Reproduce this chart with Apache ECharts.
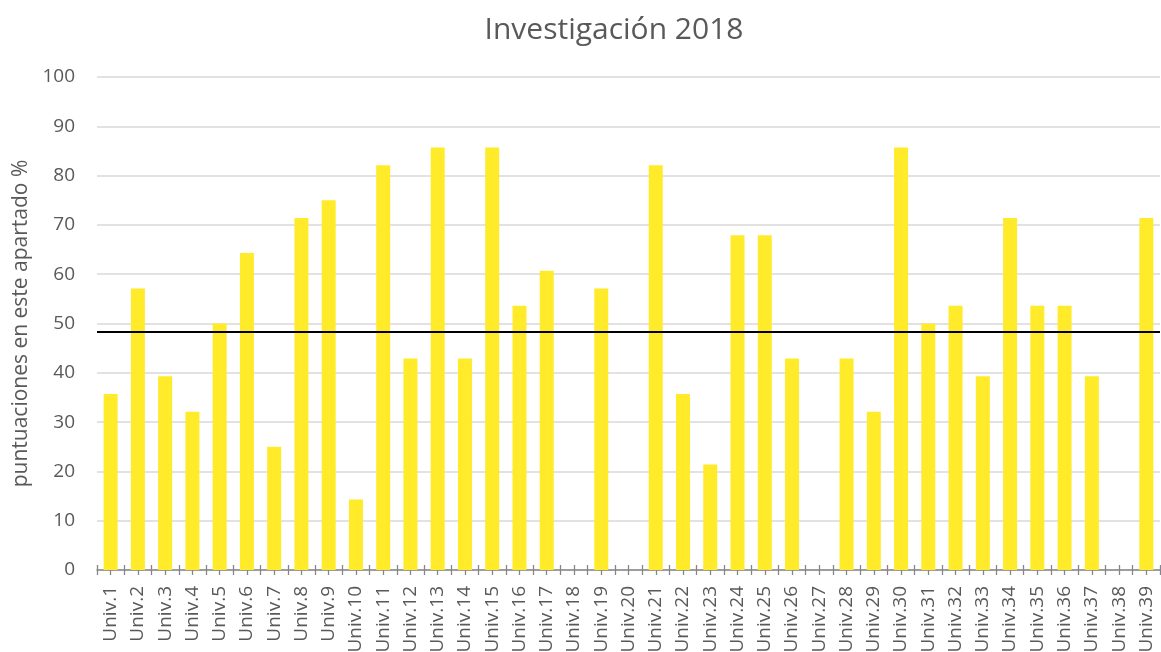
<!DOCTYPE html>
<html>
<head>
<meta charset="utf-8">
<script src="https://cdn.jsdelivr.net/npm/echarts@6/dist/echarts.min.js"></script>
<style>
  html, body { margin: 0; padding: 0; background: #fff; }
  #chart { width: 1161px; height: 652px; }
</style>
</head>
<body>
<div id="chart"></div>
<script>
// categories
const universities = [];
for (let i = 1; i <= 39; i++) universities.push("Univ." + i);

// scores (%)
const scores = [
  35.7, 57.1, 39.3, 32.1, 50.0, 64.3, 25.0, 71.4, 75.0, 14.3,
  82.1, 42.9, 85.7, 42.9, 85.7, 53.6, 60.7, 0, 57.1, 0,
  82.1, 35.7, 21.4, 67.9, 67.9, 42.9, 0, 42.9, 32.1, 85.7,
  50.0, 53.6, 39.3, 71.4, 53.6, 53.6, 39.3, 0, 71.4
];

const yTicks = { min: 0, max: 100, interval: 10 };

const chart = echarts.init(document.getElementById("chart"));

// helper axis that only draws the small tick marks across the base line
function tickAxis(inside) {
  return {
    type: "value",
    min: 0,
    max: universities.length,
    interval: 0.5,
    position: "bottom",
    axisLine: { show: false },
    axisLabel: { show: false },
    splitLine: { show: false },
    axisTick: {
      show: true,
      inside: inside,
      length: 5,
      lineStyle: { color: "#868686", width: 1.3 }
    }
  };
}

chart.setOption({
  animation: false,
  title: {
    text: "Investigación 2018",
    left: 609,
    textAlign: "center",
    top: 10,
    textStyle: {
      fontFamily: "Open Sans",
      fontSize: 30,
      fontWeight: "normal",
      color: "#595959"
    }
  },
  grid: {
    left: 97, right: 1, top: 77, bottom: 82,
    containLabel: false,
    outerBoundsMode: "none"
  },
  xAxis: [
    {
      type: "category",
      data: universities,
      axisLine: { lineStyle: { color: "#868686", width: 1.5 } },
      axisTick: { show: false },
      axisLabel: {
        interval: 0,
        rotate: 90,
        margin: 16,
        fontFamily: "Open Sans",
        fontSize: 19,
        color: "#595959"
      }
    },
    tickAxis(false),
    tickAxis(true)
  ],
  yAxis: {
    type: "value",
    min: yTicks.min,
    max: yTicks.max,
    interval: yTicks.interval,
    name: "puntuaciones en este apartado %",
    nameLocation: "middle",
    nameGap: 64,
    nameTextStyle: {
      fontFamily: "Open Sans",
      fontSize: 21,
      color: "#595959"
    },
    axisLine: { show: false },
    axisTick: { show: false },
    axisLabel: {
      margin: 22,
      fontFamily: "Open Sans",
      fontSize: 19,
      color: "#595959"
    },
    splitLine: { lineStyle: { color: "#d9d9d9", width: 1.5 } }
  },
  series: [
    {
      type: "bar",
      data: scores,
      barWidth: 14,
      itemStyle: { color: "#FFEB29" },
      markLine: {
        silent: true,
        symbol: "none",
        label: { show: false },
        lineStyle: { color: "#000", width: 2.2, type: "solid" },
        data: [{ type: "average" }]
      }
    }
  ]
});
</script>
</body>
</html>
